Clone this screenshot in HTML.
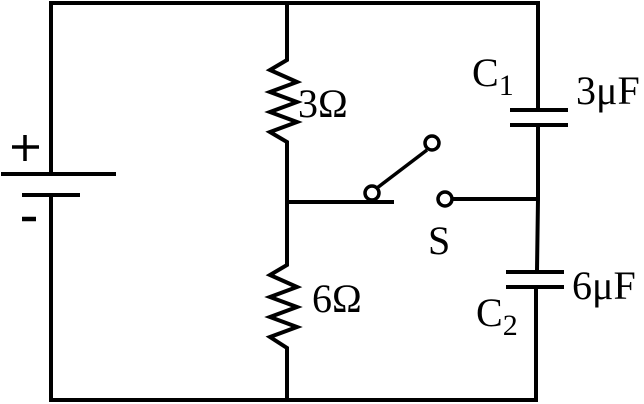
<!DOCTYPE html>
<html><head><style>html,body{margin:0;padding:0;background:#fff;}svg{display:block}</style></head>
<body>
<svg width="644" height="404" viewBox="0 0 644 404" xmlns="http://www.w3.org/2000/svg">
<g stroke="#000" stroke-width="4" fill="none" stroke-linecap="butt">
<path d="M51 174 V3 H538 V110"/>
<path d="M51 196 V400 H536 V287"/>
<path d="M1 174 H116"/>
<path d="M22 195 H80"/>
<path d="M12 147 H39 M25 135 V161" stroke-width="3.5"/>
<path d="M22 219 H36" stroke-width="4.5"/>
<path d="M287 3 V60 L270 70 L297 82 L270 92 L297 102 L270 112 L297 122 L270 132 L287 142 V265 L270 275 L297 287 L270 297 L297 307 L270 317 L297 327 L270 337 L287 348 V400"/>
<path d="M287 202 H394"/>
<path d="M510 110 H568 M510 125 H568"/>
<path d="M538 125 V199 L537 270"/>
<path d="M506 272 H564 M506 287 H564"/>
<path d="M452 199 H538"/>
<path d="M377 188 L427 150" stroke-width="3.5"/>
<circle cx="372" cy="193" r="7" fill="#fff" stroke-width="3.5"/>
<circle cx="432" cy="143" r="7" fill="#fff" stroke-width="3.5"/>
<circle cx="445" cy="199" r="7" fill="#fff" stroke-width="3.5"/>
</g>
<g font-family="Liberation Serif, serif" font-size="40" fill="#000">
<text x="298" y="117">3Ω</text>
<text x="312" y="312">6Ω</text>
<text x="472" y="86">C<tspan font-size="30" dy="9">1</tspan></text>
<text x="576" y="104">3μF</text>
<text x="428" y="254">S</text>
<text x="572" y="299">6μF</text>
<text x="476" y="326">C<tspan font-size="30" dy="9">2</tspan></text>
</g>
</svg>
</body></html>
